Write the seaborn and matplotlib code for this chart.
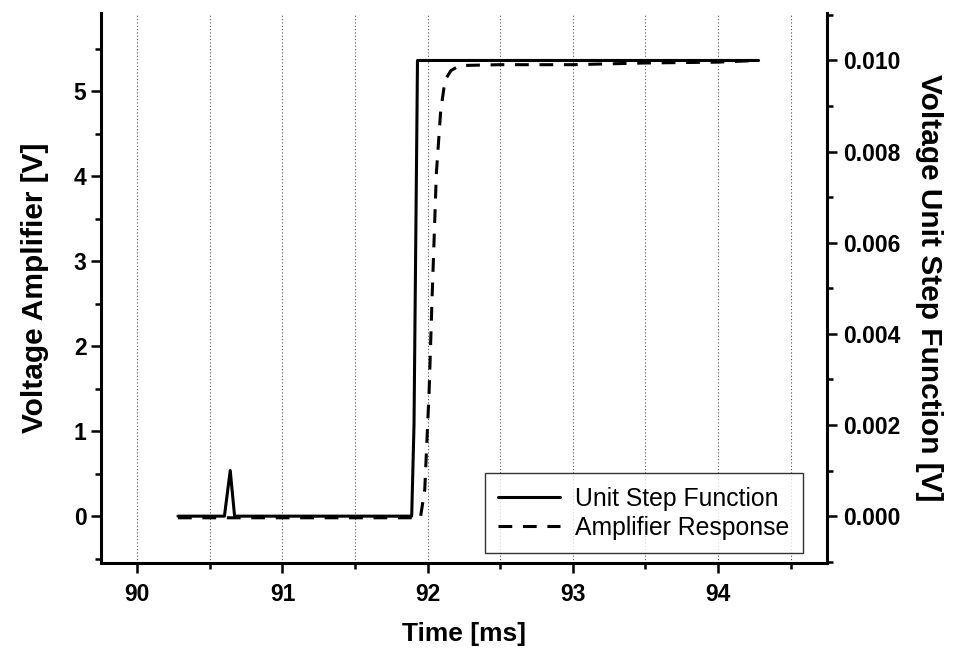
import numpy as np
import pandas as pd
import matplotlib
matplotlib.use('Agg')
import matplotlib.pyplot as plt
from matplotlib.ticker import MultipleLocator, FormatStrFormatter
import seaborn as sns

# unit step function (right axis, V)
step_t = [90.28, 90.60, 90.64, 90.67, 91.89, 91.906, 91.93, 94.28]
step_v = [0.0, 0.0, 0.00100, 0.0, 0.0, 0.0020, 0.0100, 0.0100]

# amplifier response (left axis, V)
amp_t = [90.28, 91.95, 91.98, 92.01, 92.03, 92.06, 92.09, 92.12, 92.16, 92.22,
         92.5, 93.0, 93.5, 94.0, 94.28]
amp_v = [-0.02, -0.02, 0.31, 1.46, 2.54, 4.03, 4.77, 5.13, 5.24, 5.30,
         5.31, 5.31, 5.33, 5.34, 5.36]

step = pd.DataFrame({'t': step_t, 'v': step_v})
amp = pd.DataFrame({'t': amp_t, 'v': amp_v})

sns.set_style('white')
plt.rcParams['font.family'] = ['Liberation Sans', 'DejaVu Sans']
plt.rcParams['text.color'] = 'black'
plt.rcParams['axes.labelcolor'] = 'black'
plt.rcParams['xtick.color'] = 'black'
plt.rcParams['ytick.color'] = 'black'

fig = plt.figure(figsize=(9.55, 6.54), dpi=100)
ax = fig.add_axes([0.1058, 0.139, 0.760, 0.841])
ax2 = ax.twinx()

sns.lineplot(data=amp, x='t', y='v', ax=ax, color='black', lw=2.2,
             linestyle=(0, (4.5, 3.5)), sort=False, label='Amplifier Response', legend=False)
sns.lineplot(data=step, x='t', y='v', ax=ax2, color='black', lw=2.2,
             sort=False, label='Unit Step Function', legend=False)

ax.set_xlim(89.75, 94.75)
ax.set_ylim(-0.553, 5.917)
ax2.set_ylim(-0.00103, 0.01104)

ax.xaxis.set_major_locator(MultipleLocator(1))
ax.xaxis.set_minor_locator(MultipleLocator(0.5))
ax.yaxis.set_major_locator(MultipleLocator(1))
ax.yaxis.set_minor_locator(MultipleLocator(0.5))
ax2.yaxis.set_major_locator(MultipleLocator(0.002))
ax2.yaxis.set_minor_locator(MultipleLocator(0.001))
ax2.yaxis.set_major_formatter(FormatStrFormatter('%.3f'))

ax.grid(True, axis='x', which='both', color='#555555', linestyle=(0, (1, 2)), lw=0.8)
ax.grid(False, axis='y', which='both')
ax2.grid(False)

for a in (ax, ax2):
    a.spines['top'].set_visible(False)
    for s in ('left', 'right', 'bottom'):
        a.spines[s].set_linewidth(2.2)
        a.spines[s].set_color('black')
    a.tick_params(which='major', direction='out', length=7, width=1.8, color='black',
                  labelcolor='black', labelsize=16.5)
    a.tick_params(which='minor', direction='out', length=4.5, width=1.8, color='black')
    for lbl in a.get_xticklabels() + a.get_yticklabels():
        lbl.set_fontweight('bold')
ax.tick_params(axis='x', which='major', pad=7)
ax.tick_params(axis='y', left=True, which='both')
ax.tick_params(axis='x', bottom=True, which='both')
ax2.tick_params(axis='y', right=True, which='both', pad=5)
ax.spines['right'].set_visible(False)
ax2.spines['left'].set_visible(False)
ax2.spines['bottom'].set_visible(False)

ax.set_xlabel('Time [ms]', fontsize=19, fontweight='bold', labelpad=12, color='black')
ax.set_ylabel('Voltage Amplifier [V]', fontsize=21.5, fontweight='bold', labelpad=18,
              color='black')
ax2.set_ylabel('Voltage Unit Step Function [V]', fontsize=21.5, fontweight='bold',
               rotation=-90, labelpad=30, color='black')

h1, l1 = ax2.get_legend_handles_labels()
h2, l2 = ax.get_legend_handles_labels()
leg = ax2.legend(h1 + h2, l1 + l2, loc='lower right', bbox_to_anchor=(0.967, 0.018),
                 fontsize=17.8, frameon=True, fancybox=False, edgecolor='black',
                 handlelength=2.5, borderpad=0.55, labelspacing=0.2, handletextpad=0.6,
                 borderaxespad=0)
leg.get_frame().set_linewidth(1.0)
for t in leg.get_texts():
    t.set_color('black')

fig.savefig('out.png', dpi=100)
